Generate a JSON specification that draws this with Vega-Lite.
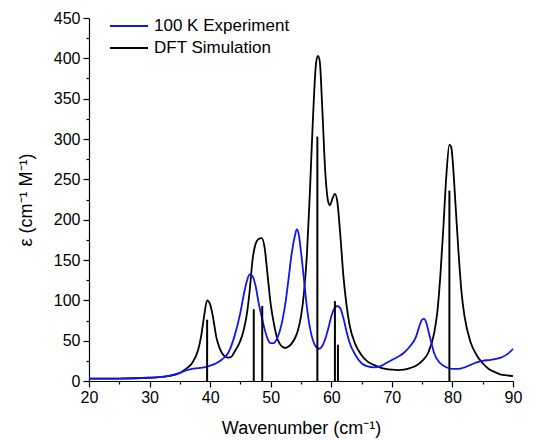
{
  "$schema": "https://vega.github.io/schema/vega-lite/v6.json",
  "width": 424,
  "height": 363,
  "autosize": "none",
  "padding": {"left": 89, "top": 18, "right": 38, "bottom": 59},
  "background": "white",
  "config": {
    "view": {"stroke": null},
    "font": "Liberation Sans",
    "axis": {
      "domainColor": "black", "tickColor": "black", "labelColor": "black", "titleColor": "black",
      "domainWidth": 1.2, "tickWidth": 1.2, "grid": false, "labelFlush": false, "labelOverlap": false,
      "labelFont": "Liberation Sans", "titleFont": "Liberation Sans",
      "labelFontSize": 16, "titleFontSize": 18, "titleFontWeight": "normal"
    }
  },
  "datasets": {
    "curves": [
      {"wn": 20, "eps": 3, "series": "DFT Simulation"},
      {"wn": 25, "eps": 3, "series": "DFT Simulation"},
      {"wn": 30, "eps": 4, "series": "DFT Simulation"},
      {"wn": 33, "eps": 6, "series": "DFT Simulation"},
      {"wn": 35, "eps": 10, "series": "DFT Simulation"},
      {"wn": 36, "eps": 15, "series": "DFT Simulation"},
      {"wn": 37, "eps": 22, "series": "DFT Simulation"},
      {"wn": 38, "eps": 38, "series": "DFT Simulation"},
      {"wn": 38.5, "eps": 55, "series": "DFT Simulation"},
      {"wn": 39, "eps": 80, "series": "DFT Simulation"},
      {"wn": 39.5, "eps": 100, "series": "DFT Simulation"},
      {"wn": 40, "eps": 95, "series": "DFT Simulation"},
      {"wn": 40.5, "eps": 78, "series": "DFT Simulation"},
      {"wn": 41, "eps": 55, "series": "DFT Simulation"},
      {"wn": 41.5, "eps": 42, "series": "DFT Simulation"},
      {"wn": 42, "eps": 34, "series": "DFT Simulation"},
      {"wn": 42.5, "eps": 30, "series": "DFT Simulation"},
      {"wn": 43, "eps": 29, "series": "DFT Simulation"},
      {"wn": 43.5, "eps": 30, "series": "DFT Simulation"},
      {"wn": 44, "eps": 36, "series": "DFT Simulation"},
      {"wn": 45, "eps": 50, "series": "DFT Simulation"},
      {"wn": 45.5, "eps": 62, "series": "DFT Simulation"},
      {"wn": 46, "eps": 80, "series": "DFT Simulation"},
      {"wn": 46.5, "eps": 110, "series": "DFT Simulation"},
      {"wn": 47, "eps": 150, "series": "DFT Simulation"},
      {"wn": 47.5, "eps": 170, "series": "DFT Simulation"},
      {"wn": 48, "eps": 176, "series": "DFT Simulation"},
      {"wn": 48.5, "eps": 177, "series": "DFT Simulation"},
      {"wn": 49, "eps": 165, "series": "DFT Simulation"},
      {"wn": 49.5, "eps": 130, "series": "DFT Simulation"},
      {"wn": 50, "eps": 95, "series": "DFT Simulation"},
      {"wn": 50.5, "eps": 72, "series": "DFT Simulation"},
      {"wn": 51, "eps": 55, "series": "DFT Simulation"},
      {"wn": 51.5, "eps": 46, "series": "DFT Simulation"},
      {"wn": 52, "eps": 42, "series": "DFT Simulation"},
      {"wn": 52.5, "eps": 41, "series": "DFT Simulation"},
      {"wn": 53, "eps": 43, "series": "DFT Simulation"},
      {"wn": 53.5, "eps": 47, "series": "DFT Simulation"},
      {"wn": 54, "eps": 53, "series": "DFT Simulation"},
      {"wn": 54.5, "eps": 63, "series": "DFT Simulation"},
      {"wn": 55, "eps": 80, "series": "DFT Simulation"},
      {"wn": 55.5, "eps": 110, "series": "DFT Simulation"},
      {"wn": 56, "eps": 160, "series": "DFT Simulation"},
      {"wn": 56.5, "eps": 240, "series": "DFT Simulation"},
      {"wn": 57, "eps": 330, "series": "DFT Simulation"},
      {"wn": 57.5, "eps": 395, "series": "DFT Simulation"},
      {"wn": 57.8, "eps": 403, "series": "DFT Simulation"},
      {"wn": 58.1, "eps": 396, "series": "DFT Simulation"},
      {"wn": 58.5, "eps": 340, "series": "DFT Simulation"},
      {"wn": 59, "eps": 260, "series": "DFT Simulation"},
      {"wn": 59.5, "eps": 222, "series": "DFT Simulation"},
      {"wn": 59.8, "eps": 218, "series": "DFT Simulation"},
      {"wn": 60.1, "eps": 224, "series": "DFT Simulation"},
      {"wn": 60.6, "eps": 232, "series": "DFT Simulation"},
      {"wn": 61, "eps": 222, "series": "DFT Simulation"},
      {"wn": 61.5, "eps": 180, "series": "DFT Simulation"},
      {"wn": 62, "eps": 130, "series": "DFT Simulation"},
      {"wn": 62.5, "eps": 95, "series": "DFT Simulation"},
      {"wn": 63, "eps": 70, "series": "DFT Simulation"},
      {"wn": 64, "eps": 45, "series": "DFT Simulation"},
      {"wn": 65, "eps": 32, "series": "DFT Simulation"},
      {"wn": 66, "eps": 24, "series": "DFT Simulation"},
      {"wn": 67, "eps": 20, "series": "DFT Simulation"},
      {"wn": 68, "eps": 17, "series": "DFT Simulation"},
      {"wn": 69, "eps": 15, "series": "DFT Simulation"},
      {"wn": 70, "eps": 14, "series": "DFT Simulation"},
      {"wn": 71, "eps": 13.5, "series": "DFT Simulation"},
      {"wn": 72, "eps": 14, "series": "DFT Simulation"},
      {"wn": 73, "eps": 16, "series": "DFT Simulation"},
      {"wn": 74, "eps": 19, "series": "DFT Simulation"},
      {"wn": 75, "eps": 25, "series": "DFT Simulation"},
      {"wn": 76, "eps": 35, "series": "DFT Simulation"},
      {"wn": 77, "eps": 60, "series": "DFT Simulation"},
      {"wn": 77.5, "eps": 85, "series": "DFT Simulation"},
      {"wn": 78, "eps": 130, "series": "DFT Simulation"},
      {"wn": 78.5, "eps": 190, "series": "DFT Simulation"},
      {"wn": 79, "eps": 255, "series": "DFT Simulation"},
      {"wn": 79.5, "eps": 293, "series": "DFT Simulation"},
      {"wn": 79.8, "eps": 290, "series": "DFT Simulation"},
      {"wn": 80, "eps": 277, "series": "DFT Simulation"},
      {"wn": 80.5, "eps": 220, "series": "DFT Simulation"},
      {"wn": 81, "eps": 160, "series": "DFT Simulation"},
      {"wn": 81.5, "eps": 110, "series": "DFT Simulation"},
      {"wn": 82, "eps": 80, "series": "DFT Simulation"},
      {"wn": 83, "eps": 48, "series": "DFT Simulation"},
      {"wn": 84, "eps": 32, "series": "DFT Simulation"},
      {"wn": 85, "eps": 22, "series": "DFT Simulation"},
      {"wn": 86, "eps": 15, "series": "DFT Simulation"},
      {"wn": 87, "eps": 11, "series": "DFT Simulation"},
      {"wn": 88, "eps": 8, "series": "DFT Simulation"},
      {"wn": 89, "eps": 7, "series": "DFT Simulation"},
      {"wn": 90, "eps": 6, "series": "DFT Simulation"},

      {"wn": 20, "eps": 3, "series": "100 K Experiment"},
      {"wn": 25, "eps": 3, "series": "100 K Experiment"},
      {"wn": 30, "eps": 4, "series": "100 K Experiment"},
      {"wn": 33, "eps": 6, "series": "100 K Experiment"},
      {"wn": 35, "eps": 10, "series": "100 K Experiment"},
      {"wn": 36, "eps": 13, "series": "100 K Experiment"},
      {"wn": 37, "eps": 15, "series": "100 K Experiment"},
      {"wn": 38, "eps": 16, "series": "100 K Experiment"},
      {"wn": 39, "eps": 17, "series": "100 K Experiment"},
      {"wn": 40, "eps": 19, "series": "100 K Experiment"},
      {"wn": 41, "eps": 22, "series": "100 K Experiment"},
      {"wn": 42, "eps": 27, "series": "100 K Experiment"},
      {"wn": 43, "eps": 35, "series": "100 K Experiment"},
      {"wn": 44, "eps": 55, "series": "100 K Experiment"},
      {"wn": 45, "eps": 85, "series": "100 K Experiment"},
      {"wn": 45.5, "eps": 105, "series": "100 K Experiment"},
      {"wn": 46, "eps": 122, "series": "100 K Experiment"},
      {"wn": 46.5, "eps": 132, "series": "100 K Experiment"},
      {"wn": 47, "eps": 130, "series": "100 K Experiment"},
      {"wn": 47.5, "eps": 118, "series": "100 K Experiment"},
      {"wn": 48, "eps": 97, "series": "100 K Experiment"},
      {"wn": 48.5, "eps": 80, "series": "100 K Experiment"},
      {"wn": 49, "eps": 64, "series": "100 K Experiment"},
      {"wn": 49.5, "eps": 52, "series": "100 K Experiment"},
      {"wn": 50, "eps": 47, "series": "100 K Experiment"},
      {"wn": 50.5, "eps": 47, "series": "100 K Experiment"},
      {"wn": 51, "eps": 52, "series": "100 K Experiment"},
      {"wn": 51.5, "eps": 62, "series": "100 K Experiment"},
      {"wn": 52, "eps": 78, "series": "100 K Experiment"},
      {"wn": 52.5, "eps": 100, "series": "100 K Experiment"},
      {"wn": 53, "eps": 130, "series": "100 K Experiment"},
      {"wn": 53.5, "eps": 160, "series": "100 K Experiment"},
      {"wn": 54, "eps": 180, "series": "100 K Experiment"},
      {"wn": 54.3, "eps": 188, "series": "100 K Experiment"},
      {"wn": 54.6, "eps": 183, "series": "100 K Experiment"},
      {"wn": 55, "eps": 160, "series": "100 K Experiment"},
      {"wn": 55.5, "eps": 125, "series": "100 K Experiment"},
      {"wn": 56, "eps": 90, "series": "100 K Experiment"},
      {"wn": 56.5, "eps": 65, "series": "100 K Experiment"},
      {"wn": 57, "eps": 50, "series": "100 K Experiment"},
      {"wn": 57.5, "eps": 42, "series": "100 K Experiment"},
      {"wn": 58, "eps": 40, "series": "100 K Experiment"},
      {"wn": 58.5, "eps": 43, "series": "100 K Experiment"},
      {"wn": 59, "eps": 52, "series": "100 K Experiment"},
      {"wn": 59.5, "eps": 65, "series": "100 K Experiment"},
      {"wn": 60, "eps": 80, "series": "100 K Experiment"},
      {"wn": 60.5, "eps": 90, "series": "100 K Experiment"},
      {"wn": 61, "eps": 93, "series": "100 K Experiment"},
      {"wn": 61.5, "eps": 90, "series": "100 K Experiment"},
      {"wn": 62, "eps": 78, "series": "100 K Experiment"},
      {"wn": 62.5, "eps": 62, "series": "100 K Experiment"},
      {"wn": 63, "eps": 48, "series": "100 K Experiment"},
      {"wn": 64, "eps": 32, "series": "100 K Experiment"},
      {"wn": 65, "eps": 22, "series": "100 K Experiment"},
      {"wn": 66, "eps": 18, "series": "100 K Experiment"},
      {"wn": 67, "eps": 17, "series": "100 K Experiment"},
      {"wn": 68, "eps": 18, "series": "100 K Experiment"},
      {"wn": 69, "eps": 22, "series": "100 K Experiment"},
      {"wn": 70, "eps": 26, "series": "100 K Experiment"},
      {"wn": 71, "eps": 30, "series": "100 K Experiment"},
      {"wn": 72, "eps": 35, "series": "100 K Experiment"},
      {"wn": 73, "eps": 43, "series": "100 K Experiment"},
      {"wn": 74, "eps": 55, "series": "100 K Experiment"},
      {"wn": 74.5, "eps": 67, "series": "100 K Experiment"},
      {"wn": 75, "eps": 76, "series": "100 K Experiment"},
      {"wn": 75.3, "eps": 77, "series": "100 K Experiment"},
      {"wn": 75.7, "eps": 72, "series": "100 K Experiment"},
      {"wn": 76, "eps": 63, "series": "100 K Experiment"},
      {"wn": 76.5, "eps": 48, "series": "100 K Experiment"},
      {"wn": 77, "eps": 34, "series": "100 K Experiment"},
      {"wn": 78, "eps": 22, "series": "100 K Experiment"},
      {"wn": 79, "eps": 17, "series": "100 K Experiment"},
      {"wn": 80, "eps": 15, "series": "100 K Experiment"},
      {"wn": 81, "eps": 15, "series": "100 K Experiment"},
      {"wn": 82, "eps": 17, "series": "100 K Experiment"},
      {"wn": 83, "eps": 20, "series": "100 K Experiment"},
      {"wn": 84, "eps": 23, "series": "100 K Experiment"},
      {"wn": 85, "eps": 25, "series": "100 K Experiment"},
      {"wn": 86, "eps": 26, "series": "100 K Experiment"},
      {"wn": 87, "eps": 27, "series": "100 K Experiment"},
      {"wn": 88, "eps": 29, "series": "100 K Experiment"},
      {"wn": 89, "eps": 33, "series": "100 K Experiment"},
      {"wn": 89.5, "eps": 36, "series": "100 K Experiment"},
      {"wn": 90, "eps": 40, "series": "100 K Experiment"}
    ],
    "sticks": [
      {"wn": 39.5, "eps": 76},
      {"wn": 47.2, "eps": 89},
      {"wn": 48.6, "eps": 93},
      {"wn": 57.7, "eps": 303},
      {"wn": 60.6, "eps": 99},
      {"wn": 61.1, "eps": 45},
      {"wn": 79.5, "eps": 236}
    ]
  },
  "layer": [
    {
      "data": {"name": "curves"},
      "mark": {"type": "line", "interpolate": "monotone", "strokeWidth": 1.8},
      "encoding": {
        "x": {
          "field": "wn", "type": "quantitative",
          "scale": {"domain": [20, 90], "nice": false, "zero": false},
          "axis": {
            "values": [20, 30, 40, 50, 60, 70, 80, 90], "format": "d",
            "tickSize": 6, "labelPadding": 2, "title": "Wavenumber (cm⁻¹)", "titlePadding": 14
          }
        },
        "y": {
          "field": "eps", "type": "quantitative",
          "scale": {"domain": [0, 450], "nice": false},
          "axis": {
            "values": [0, 50, 100, 150, 200, 250, 300, 350, 400, 450],
            "tickSize": 6, "labelPadding": 3, "title": "ε (cm⁻¹ M⁻¹)", "titlePadding": 18
          }
        },
        "color": {
          "field": "series", "type": "nominal",
          "scale": {"domain": ["100 K Experiment", "DFT Simulation"], "range": ["#1414f0", "#000000"]},
          "legend": {
            "orient": "none", "legendX": 20, "legendY": -3, "title": null,
            "symbolType": "stroke", "symbolSize": 1444, "symbolStrokeWidth": 2,
            "labelFont": "Liberation Sans", "labelFontSize": 17, "labelColor": "black",
            "clipHeight": 22, "rowPadding": 0, "labelOffset": 5
          }
        }
      }
    },
    {
      "data": {"name": "sticks"},
      "mark": {"type": "rule", "color": "black", "strokeWidth": 2},
      "encoding": {
        "x": {
          "field": "wn", "type": "quantitative",
          "axis": {
            "orient": "bottom", "values": [25, 35, 45, 55, 65, 75, 85],
            "tickSize": 3, "labels": false, "domain": false, "title": null
          }
        },
        "y": {
          "field": "eps", "type": "quantitative",
          "axis": {
            "orient": "left", "values": [25, 75, 125, 175, 225, 275, 325, 375, 425],
            "tickSize": 3, "labels": false, "domain": false, "title": null
          }
        },
        "y2": {"datum": 0}
      }
    }
  ],
  "resolve": {"axis": {"x": "independent", "y": "independent"}}
}
